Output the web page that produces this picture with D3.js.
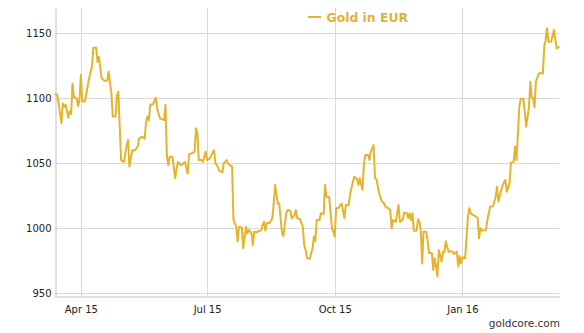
<!DOCTYPE html>
<html>
<head>
<meta charset="utf-8">
<script src="https://cdn.jsdelivr.net/npm/d3@7"></script>
<style>
  html, body { margin: 0; padding: 0; background: #ffffff; }
  svg { display: block; }
</style>
</head>
<body>
<svg id="chart" width="584" height="333"></svg>
<script>
// ---- data ----
const seriesName = "Gold in EUR";
const dates = [
"2015-03-13","2015-03-15","2015-03-18","2015-03-19","2015-03-20","2015-03-21","2015-03-23","2015-03-24","2015-03-25","2015-03-26",
"2015-03-27","2015-03-29","2015-03-30","2015-03-31","2015-04-01","2015-04-02","2015-04-04","2015-04-06","2015-04-07","2015-04-08",
"2015-04-09","2015-04-10","2015-04-12","2015-04-13","2015-04-14","2015-04-16","2015-04-18","2015-04-20","2015-04-21","2015-04-23",
"2015-04-24","2015-04-26","2015-04-27","2015-04-28","2015-04-30","2015-05-02","2015-05-04","2015-05-05","2015-05-06","2015-05-08",
"2015-05-10","2015-05-12","2015-05-13","2015-05-15","2015-05-17","2015-05-18","2015-05-19","2015-05-20","2015-05-21","2015-05-23",
"2015-05-25","2015-05-26","2015-05-28","2015-05-31","2015-06-01","2015-06-02","2015-06-03","2015-06-04","2015-06-06","2015-06-08",
"2015-06-09","2015-06-10","2015-06-12","2015-06-13","2015-06-15","2015-06-17","2015-06-18","2015-06-20","2015-06-22","2015-06-23",
"2015-06-24","2015-06-25","2015-06-27","2015-06-28","2015-06-30","2015-07-01","2015-07-03","2015-07-06","2015-07-07","2015-07-08",
"2015-07-10","2015-07-12","2015-07-13","2015-07-15","2015-07-16","2015-07-18","2015-07-19","2015-07-20","2015-07-22","2015-07-23",
"2015-07-24","2015-07-26","2015-07-27","2015-07-29","2015-07-30","2015-07-31","2015-08-02","2015-08-03","2015-08-04","2015-08-06",
"2015-08-07","2015-08-09","2015-08-10","2015-08-11","2015-08-12","2015-08-13","2015-08-15","2015-08-17","2015-08-18","2015-08-19",
"2015-08-21","2015-08-22","2015-08-24","2015-08-25","2015-08-27","2015-08-28","2015-08-30","2015-08-31","2015-09-02","2015-09-03",
"2015-09-04","2015-09-06","2015-09-08","2015-09-09","2015-09-10","2015-09-11","2015-09-13","2015-09-15","2015-09-16","2015-09-17",
"2015-09-18","2015-09-20","2015-09-21","2015-09-23","2015-09-24","2015-09-25","2015-09-27","2015-09-29","2015-09-30","2015-10-01",
"2015-10-02","2015-10-04","2015-10-05","2015-10-06","2015-10-08","2015-10-09","2015-10-11","2015-10-12","2015-10-13","2015-10-15",
"2015-10-17","2015-10-18","2015-10-19","2015-10-21","2015-10-22","2015-10-23","2015-10-25","2015-10-26","2015-10-27","2015-10-29",
"2015-10-30","2015-10-31","2015-11-02","2015-11-04","2015-11-05","2015-11-07","2015-11-08","2015-11-10","2015-11-11","2015-11-12",
"2015-11-14","2015-11-15","2015-11-16","2015-11-17","2015-11-19","2015-11-20","2015-11-22","2015-11-23","2015-11-24","2015-11-25",
"2015-11-26","2015-11-27","2015-11-29","2015-11-30","2015-12-01","2015-12-02","2015-12-03","2015-12-04","2015-12-06","2015-12-07",
"2015-12-08","2015-12-10","2015-12-11","2015-12-12","2015-12-13","2015-12-14","2015-12-15","2015-12-17","2015-12-18","2015-12-19",
"2015-12-20","2015-12-22","2015-12-23","2015-12-25","2015-12-26","2015-12-28","2015-12-29","2015-12-30","2015-12-31","2016-01-01",
"2016-01-03","2016-01-05","2016-01-06","2016-01-07","2016-01-09","2016-01-10","2016-01-12","2016-01-13","2016-01-14","2016-01-15",
"2016-01-18","2016-01-19","2016-01-21","2016-01-23","2016-01-25","2016-01-26","2016-01-27","2016-01-29","2016-01-30","2016-02-01",
"2016-02-02","2016-02-04","2016-02-05","2016-02-07","2016-02-08","2016-02-09","2016-02-10","2016-02-11","2016-02-12","2016-02-14",
"2016-02-15","2016-02-16","2016-02-18","2016-02-19","2016-02-20","2016-02-21","2016-02-22","2016-02-23","2016-02-25","2016-02-26",
"2016-02-28","2016-02-29","2016-03-01","2016-03-02","2016-03-03","2016-03-05","2016-03-07","2016-03-08","2016-03-09","2016-03-11"
];
const values = [
1103,1103,1081,1096,1093.5,1095,1085,1090,1088,1111.5,
1101,1100,1094,1098.7,1118,1097.5,1097.5,1110,1115.4,1120.5,
1124,1139,1139,1128,1132,1115.4,1113.5,1113.5,1120.5,1104,
1086,1086,1102.5,1105,1052.5,1051,1064,1068,1047.5,1060,
1060,1063,1069,1070.5,1069,1082,1086,1083,1095,1095.4,
1100.5,1092,1084.6,1083.3,1095,1056,1048.7,1055,1055,1038.5,
1046,1051,1048.7,1049,1051,1042,1057,1057.7,1059,1077,
1073,1052.5,1052.5,1051,1059,1052.5,1054,1060,1050,1048.7,
1044,1043,1050,1052.5,1050,1048,1047.5,1006.4,1001,990,
1001,1000.6,984.6,1001,996,998.7,996,987,997.4,997,
998,998.2,1002.5,1005,998.2,1004,1004,1007.7,1019,1033.3,
1019,1019,996,994,1011.5,1014,1013.5,1007.7,1010,1014,
1007.7,1007,1001,987,983.3,977,976.5,984.6,993.6,990,
1006.4,1006.4,1011.5,1011,1033.3,1024.3,1024,1000,997.4,993.6,
1015.4,1015.8,1018,1019,1007.7,1018,1017.7,1025.6,1030.8,1039.7,
1038,1033.3,1038.5,1029.5,1048.7,1056.4,1056.4,1052.5,1059,1064,
1038.5,1038,1027,1020.5,1020,1016,1016,1014,1000,1006.4,
1005,1011.5,1018,1005,1006.4,1012,1011.5,1007.7,1011.5,1006.4,
1011.5,998.2,998.2,1007,1005,998.7,973,997.4,997.4,990,
981,981,968,977,970.5,963,983.3,974.4,982,981.6,
990,982,982.3,982,980.2,982,970.5,978.7,973,977.7,
977,1009,1015.4,1011.5,1010,1009.5,1008,992.3,1000,998.2,
998.5,1006.4,1016.7,1016.7,1024.3,1032,1020.5,1029.5,1033.3,1037.2,
1028.2,1034.6,1050.5,1051.2,1063,1052.5,1072,1093.5,1099.5,1099.7,
1088.5,1078.2,1093.5,1112.8,1101,1100,1093,1112.8,1119,1119.5,
1119,1139.7,1145,1154,1143.6,1143.6,1152.6,1145,1138.5,1139.7
];
const yTicks = [950, 1000, 1050, 1100, 1150];
const xTickDates = ["2015-04-01", "2015-07-01", "2015-10-01", "2016-01-01"];
const xDomain = ["2015-03-13", "2016-03-11"];
const yDomain = [947.9, 1169.5];
const creditText = "goldcore.com";

// ---- drawing ----
const parse = d3.timeParse("%Y-%m-%d");
const data = dates.map((d, i) => ({ date: parse(d), value: values[i] }));

const svg = d3.select("#chart");
const plotLeft = 54.5, plotRight = 559.5, plotTop = 8, plotBottom = 296;
const lineColor = "#e6b32c";
const font = "'DejaVu Sans', Verdana, sans-serif";

const x = d3.scaleTime().domain(xDomain.map(parse)).range([plotLeft, plotRight]);
const y = d3.scaleLinear().domain(yDomain).range([plotBottom, plotTop]);

// grid lines
const grid = svg.append("g");
grid.selectAll("line.h").data(yTicks).join("line")
  .attr("x1", plotLeft).attr("x2", plotRight)
  .attr("y1", d => Math.round(y(d)) + 0.5).attr("y2", d => Math.round(y(d)) + 0.5)
  .attr("stroke", "#d9d9d9").attr("stroke-width", 1);
grid.selectAll("line.v").data(xTickDates.map(parse)).join("line")
  .attr("x1", d => Math.round(x(d)) + 0.5).attr("x2", d => Math.round(x(d)) + 0.5)
  .attr("y1", plotTop).attr("y2", plotBottom)
  .attr("stroke", "#d9d9d9").attr("stroke-width", 1);

// axes
const yAxis = d3.axisLeft(y).tickValues(yTicks).tickSize(0).tickPadding(4).tickFormat(d3.format("d"));
const yg = svg.append("g").attr("transform", `translate(${Math.round(plotLeft) + 0.5},0)`).call(yAxis);
yg.select(".domain").attr("stroke", "#c0c0c0");
yg.selectAll("text").attr("font-family", font).attr("font-size", 10).attr("fill", "#222");

const xAxis = d3.axisBottom(x).tickValues(xTickDates.map(parse)).tickSize(0).tickPadding(9)
  .tickFormat(d3.timeFormat("%b %y"));
const xg = svg.append("g").attr("transform", `translate(0,${plotBottom + 0.5})`).call(xAxis);
xg.select(".domain").attr("stroke", "#c0c0c0");
xg.selectAll("text").attr("font-family", font).attr("font-size", 10).attr("fill", "#222");

// line
const line = d3.line().x(d => x(d.date)).y(d => y(d.value));
svg.append("path").datum(data)
  .attr("d", line)
  .attr("fill", "none")
  .attr("stroke", lineColor)
  .attr("stroke-width", 2)
  .attr("stroke-linejoin", "round");

// legend
const lg = svg.append("g");
lg.append("line").attr("x1", 308).attr("x2", 321).attr("y1", 17).attr("y2", 17)
  .attr("stroke", lineColor).attr("stroke-width", 2);
lg.append("text").attr("x", 326.5).attr("y", 21.5)
  .attr("font-family", font).attr("font-size", 12.4).attr("font-weight", "bold")
  .attr("fill", "#dfb23a").text(seriesName);

// credit
svg.append("text").attr("x", 560).attr("y", 327).attr("text-anchor", "end")
  .attr("font-family", font).attr("font-size", 10.5).attr("fill", "#333")
  .text(creditText);
</script>
</body>
</html>
